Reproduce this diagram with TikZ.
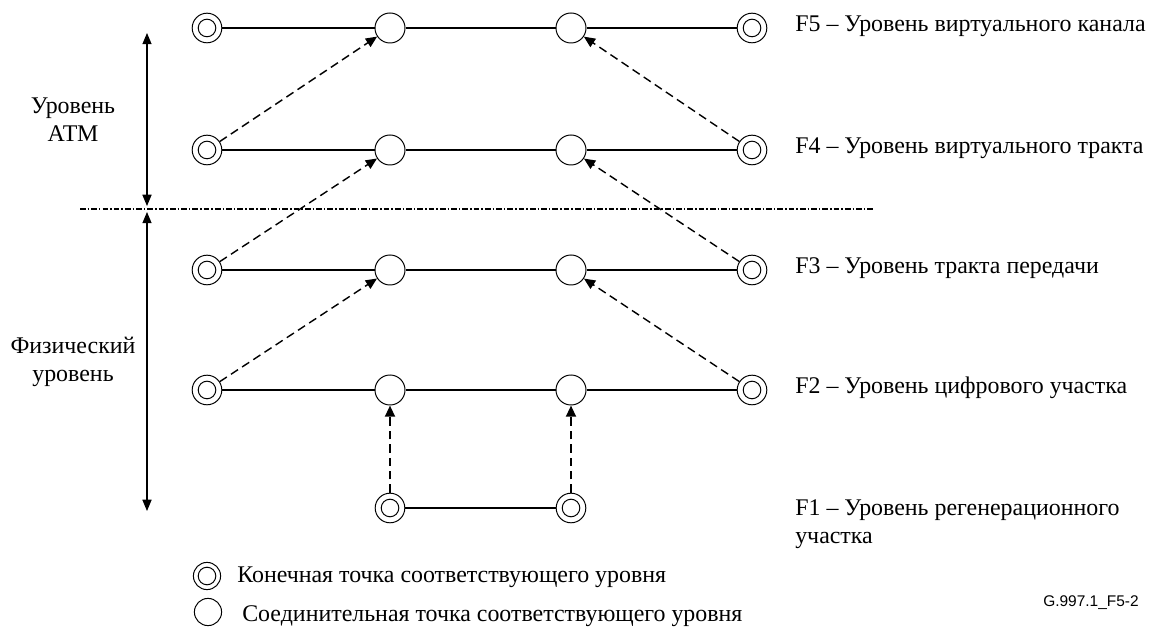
\documentclass[tikz,border=0pt]{standalone}
\usepackage{fontspec}
\setmainfont{Liberation Serif}
\newfontfamily\labelsans{Liberation Sans}
\usetikzlibrary{arrows.meta}
\begin{document}
\begin{tikzpicture}[x=0.025cm,y=-0.025cm,
  endpt/.style={circle,draw,line width=0.7pt,minimum size=0.74cm,inner sep=0pt,
    path picture={\draw[line width=0.7pt] (path picture bounding box.center) circle (0.22cm);}},
  connpt/.style={circle,draw,line width=0.7pt,minimum size=0.75cm,inner sep=0pt},
  link/.style={line width=1.4pt},
  lift/.style={line width=1pt,dash pattern=on 6pt off 3.5pt,-{Triangle[length=8pt,width=7pt]}},
  liftv/.style={line width=1.6pt,dash pattern=on 6pt off 3.5pt,-{Triangle[length=8pt,width=7pt]}},
  span/.style={line width=0.8pt,{Triangle[length=8pt,width=6.5pt]}-{Triangle[length=8pt,width=6.5pt]}},
  boundary/.style={line width=1pt,dash pattern=on 4pt off 1.5pt on 1pt off 1.5pt},
  layertext/.style={anchor=west,font=\fontsize{17}{20}\selectfont,inner sep=0pt},
  sidetext/.style={align=center,font=\fontsize{17}{20}\selectfont,inner sep=0pt},
  keytext/.style={anchor=west,font=\fontsize{17}{20}\selectfont,inner sep=0pt}]
\useasboundingbox (0,0) rectangle (1152,635);

% layer rows: end points and connection points
\foreach \r/\y in {5/28,4/150,3/270,2/390}{
  \node[endpt]  (e\r L) at (207,\y) {};
  \node[connpt] (c\r a) at (390,\y) {};
  \node[connpt] (c\r b) at (571,\y) {};
  \node[endpt]  (e\r R) at (752,\y) {};
  \draw[link] (e\r L) -- (c\r a) -- (c\r b) -- (e\r R);
}
\node[endpt] (e1L) at (390,508) {};
\node[endpt] (e1R) at (571,508) {};
\draw[link] (e1L) -- (e1R);

% relations between adjacent layers
\foreach \lo/\hi in {4/5,3/4,2/3}{
  \draw[lift] (e\lo L) -- (c\hi a);
  \draw[lift] (e\lo R) -- (c\hi b);
}
\draw[liftv] (e1L) -- (c2a);
\draw[liftv] (e1R) -- (c2b);

% boundary between ATM and physical layers
\coordinate (sepL) at (80,209);
\coordinate (sepR) at (875,209);
\draw[boundary] (sepL) -- (sepR);

% extents of the two level groups
\coordinate (atmTop) at (147,33);
\coordinate (atmBot) at (147,206);
\coordinate (phyTop) at (147,212);
\coordinate (phyBot) at (147,511);
\draw[span] (atmTop) -- (atmBot);
\draw[span] (phyTop) -- (phyBot);

\node[sidetext] (atm) at (73,120) {Уровень\\АТМ};
\node[sidetext] (phy) at (73,362) {Физический\\уровень};

% layer names
\node[layertext] (t5) at (795,26) {F5 – Уровень виртуального канала};
\node[layertext] (t4) at (795,148) {F4 – Уровень виртуального тракта};
\node[layertext] (t3) at (795,268) {F3 – Уровень тракта передачи};
\node[layertext] (t2) at (795,388) {F2 – Уровень цифрового участка};
\node[layertext,align=left,anchor=north west] (t1) at (795,499) {F1 – Уровень регенерационного\\участка};

% key
\node[endpt,minimum size=0.68cm] (keyE) at (207,576) {};
\node[keytext] (keyEt) at (237,577) {Конечная точка соответствующего уровня};
\node[connpt,minimum size=0.68cm] (keyC) at (208,612) {};
\node[keytext] (keyCt) at (242,616) {Соединительная точка соответствующего уровня};

\node[anchor=west,inner sep=0pt,font=\labelsans\fontsize{11}{13}\selectfont] (fig) at (1043,603) {G.997.1\_F5-2};
\end{tikzpicture}
\end{document}
